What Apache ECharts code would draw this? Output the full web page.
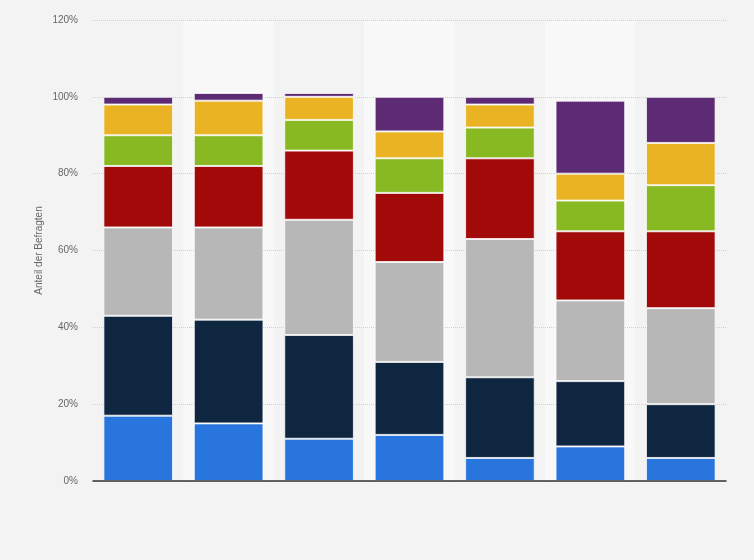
<!DOCTYPE html>
<html>
<head>
<meta charset="utf-8">
<script src="https://cdn.jsdelivr.net/npm/echarts@6/dist/echarts.min.js"></script>
<style>
  html, body { margin: 0; padding: 0; background: #f3f3f3; }
  #chart { width: 754px; height: 560px; }
</style>
</head>
<body>
<div id="chart"></div>
<script>
// Kategorien (keine Beschriftung sichtbar)
const categories = ['1', '2', '3', '4', '5', '6', '7'];

// Anteile je Segment, von unten nach oben
const blueValues   = [17, 15, 11, 12, 6, 9, 6];
const navyValues   = [26, 27, 27, 19, 21, 17, 14];
const grayValues   = [23, 24, 30, 26, 36, 21, 25];
const redValues    = [16, 16, 18, 18, 21, 18, 20];
const greenValues  = [8, 8, 8, 9, 8, 8, 12];
const yellowValues = [8, 9, 6, 7, 6, 7, 11];
const purpleValues = [2, 2, 1, 9, 2, 19, 12];

const yTicks = [0, 20, 40, 60, 80, 100, 120];

const seriesDefs = [
    { name: 'Segment 1', data: blueValues,   color: '#2876dd' },
    { name: 'Segment 2', data: navyValues,   color: '#0f2640' },
    { name: 'Segment 3', data: grayValues,   color: '#b7b7b7' },
    { name: 'Segment 4', data: redValues,    color: '#a20909' },
    { name: 'Segment 5', data: greenValues,  color: '#88b922' },
    { name: 'Segment 6', data: yellowValues, color: '#eab323' },
    { name: 'Segment 7', data: purpleValues, color: '#5d2a74' }
];

const myChart = echarts.init(document.getElementById('chart'));

let option = {
    backgroundColor: '#f3f3f3',
    animation: false,
    grid: {
        left: 93,
        right: 28,
        top: 20,
        bottom: 79
    },
    xAxis: [{
        // Hintergrundstreifen
        type: 'category',
        data: categories,
        z: 0,
        axisLine: { show: false },
        axisTick: { show: false },
        axisLabel: { show: false },
        splitArea: {
            show: true,
            areaStyle: { color: ['#f3f3f3', '#f8f8f8'] }
        }
    }, {
        // Grundlinie ueber den Gitterlinien
        type: 'category',
        data: categories,
        position: 'bottom',
        z: 3,
        axisLine: { show: true, lineStyle: { color: '#333', width: 1.5 } },
        axisTick: { show: false },
        axisLabel: { show: false },
        splitLine: { show: false }
    }],
    yAxis: {
        type: 'value',
        z: 1,
        min: yTicks[0],
        max: yTicks[yTicks.length - 1],
        interval: 20,
        name: 'Anteil der Befragten',
        nameLocation: 'middle',
        nameGap: 49,
        nameMoveOverlap: false,
        nameTextStyle: { color: '#666', fontSize: 10, fontFamily: 'Liberation Sans, Arial' },
        axisLine: { show: false },
        axisTick: { show: false },
        axisLabel: {
            margin: 15,
            color: '#666',
            fontSize: 10,
            fontFamily: 'Liberation Sans, Arial',
            formatter: (v) => v + '%'
        },
        splitLine: {
            show: true,
            lineStyle: { color: '#cfcfcf', type: [1, 1], width: 1 }
        }
    },
    series: seriesDefs.map((s) => ({
        name: s.name,
        type: 'bar',
        stack: 'total',
        xAxisIndex: 0,
        z: 2,
        barCategoryGap: '23%',
        data: s.data,
        itemStyle: {
            color: s.color,
            borderColor: 'rgba(255,255,255,0.75)',
            borderWidth: 1
        }
    }))
};

myChart.setOption(option, true);
</script>
</body>
</html>
